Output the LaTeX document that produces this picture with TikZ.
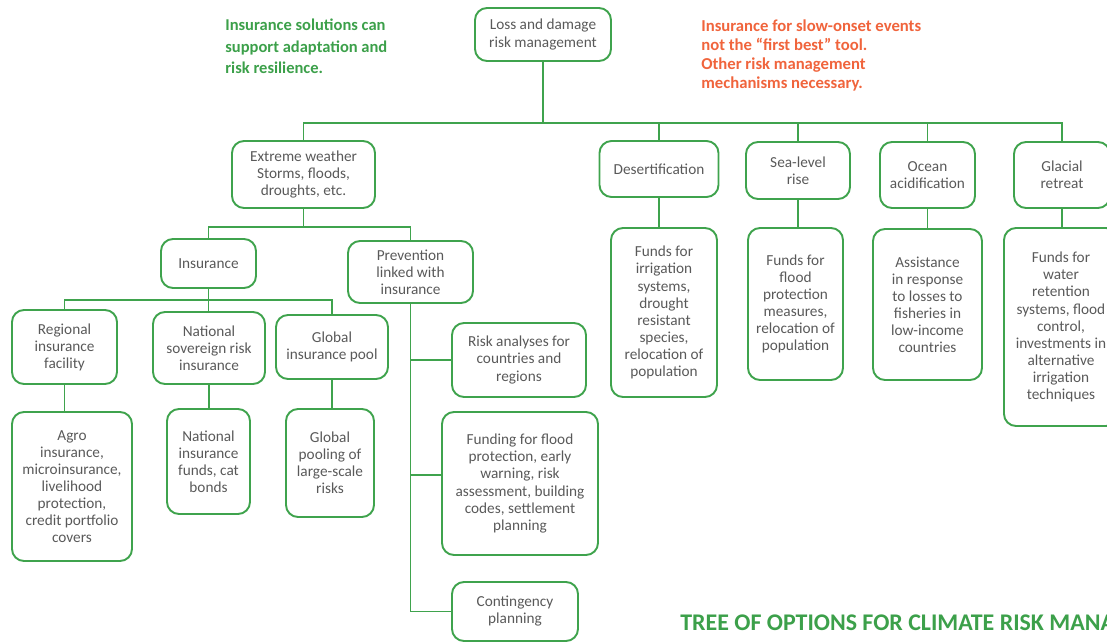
\documentclass[tikz,border=0pt]{standalone}
\usepackage{fontspec}
\setmainfont{Carlito}
\usetikzlibrary{calc}

\definecolor{verde}{RGB}{63,163,77}
\definecolor{verdetit}{RGB}{60,160,74}
\definecolor{gris}{RGB}{89,89,89}
\definecolor{naranja}{RGB}{240,100,60}

\begin{document}
\begin{tikzpicture}[x=0.02cm, y=-0.02cm,
  caja/.style={draw=verde, line width=1.1pt, rounded corners=0.24cm, align=center,
    text=gris, inner sep=0pt, font=\fontsize{8.7}{9.7}\selectfont},
  tam/.style 2 args={minimum width=#1*0.02cm, minimum height=#2*0.02cm},
  rama/.style={draw=verde, line width=0.85pt},
  nota/.style={align=left, inner sep=0pt, anchor=north west,
    font=\bfseries\fontsize{9.4}{12.2}\selectfont}]
  \useasboundingbox (0,0) rectangle (1107,642);
  \clip (0,0) rectangle (1107,642);

  % textos sueltos
  \node[nota, text=verdetit] (nota1) at (225,19)
    {Insurance solutions can\\support adaptation and\\risk resilience.};
  \node[nota, text=naranja, font=\bfseries\fontsize{9.5}{10.8}\selectfont] (nota2) at (701,19.5)
    {Insurance for slow-onset events\\not the ``first best'' tool.\\Other risk management\\mechanisms necessary.};
  \node[anchor=base west, inner sep=0pt, text=verdetit,
    font=\bfseries\fontsize{13.6}{15}\selectfont] (titulo) at (680,630)
    {TREE OF OPTIONS FOR CLIMATE RISK MANA};

  % raiz y primer nivel
  \node[caja, tam={136}{53}] (loss) at (543,34.5) {Loss and damage\\risk management};
  \node[caja, tam={143}{67}] (ext) at (303.5,174.5) {Extreme weather\\Storms, floods,\\droughts, etc.};
  \node[caja, tam={119}{56}] (des) at (659,169) {Desertification};
  \node[caja, tam={104}{57}] (sea) at (798,170.5) {Sea-level\\rise};
  \node[caja, tam={95}{66}] (oce) at (927.5,175) {Ocean\\acidification};
  \node[caja, tam={96}{66}] (glac) at (1062,175) {Glacial\\retreat};

  % eventos lentos
  \node[caja, tam={106}{169}] (desC) at (664,312.5)
    {Funds for\\irrigation\\systems,\\drought\\resistant\\species,\\relocation of\\population};
  \node[caja, tam={95}{152}] (seaC) at (795.5,304)
    {Funds for\\flood\\protection\\measures,\\relocation of\\population};
  \node[caja, tam={109}{151}] (oceC) at (927.5,304.5)
    {Assistance\\in response\\to losses to\\fisheries in\\low-income\\countries};
  \node[caja, tam={114}{198}] (glacC) at (1061,327)
    {Funds for\\water\\retention\\systems, flood\\control,\\investments in\\alternative\\irrigation\\techniques};

  % seguro y prevencion
  \node[caja, tam={95}{49}] (ins) at (208.5,263.5) {Insurance};
  \node[caja, tam={125}{62}] (prev) at (410.5,272) {Prevention\\linked with\\insurance};
  \node[caja, tam={105}{74}] (reg) at (64.5,347) {Regional\\insurance\\facility};
  \node[caja, tam={112}{72}] (nat) at (209,348) {National\\sovereign risk\\insurance};
  \node[caja, tam={112}{64}] (glob) at (332,347) {Global\\insurance pool};
  \node[caja, tam={120}{149}] (regC) at (72,486.5)
    {Agro\\insurance,\\microinsurance,\\livelihood\\protection,\\credit portfolio\\covers};
  \node[caja, tam={83}{105}] (natC) at (208.5,461.5) {National\\insurance\\funds, cat\\bonds};
  \node[caja, tam={88}{108}] (globC) at (330,463) {Global\\pooling of\\large-scale\\risks};
  \node[caja, tam={134}{74}] (risk) at (519,360) {Risk analyses for\\countries and\\regions};
  \node[caja, tam={156}{143}] (fund) at (520,483.5)
    {Funding for flood\\protection, early\\warning, risk\\assessment, building\\codes, settlement\\planning};
  \node[caja, tam={126}{59}] (cont) at (515,611.5) {Contingency\\planning};

  % barras del arbol
  \coordinate (bus1) at (0,123);
  \coordinate (bus2) at (0,227);
  \coordinate (bus3) at (0,300);
  \coordinate (fundIn) at ($(fund.west)+(0,-8.5)$);

  \draw[rama] (loss.south) -- (loss.south |- bus1);
  \draw[rama] (ext.north) |- (glac.north |- bus1) -- (glac.north);
  \foreach \n in {des,sea,oce}
    \draw[rama] (\n.north) -- (\n.north |- bus1);
  \foreach \a/\b in {des/desC,sea/seaC,oce/oceC,glac/glacC,reg/regC,nat/natC,glob/globC}
    \draw[rama] (\a.south) -- (\a.south |- \b.north);
  \draw[rama] (ext.south) -- (ext.south |- bus2);
  \draw[rama] (ins.north) |- (prev.north |- bus2) -- (prev.north);
  \draw[rama] (ins.south) -- (ins.south |- nat.north);
  \draw[rama] (reg.north) |- (glob.north |- bus3) -- (glob.north);
  \draw[rama] (prev.south) -- (prev.south |- cont.west) -- (cont.west);
  \draw[rama] (prev.south |- risk.west) -- (risk.west);
  \draw[rama] (prev.south |- fundIn) -- (fundIn);
\end{tikzpicture}
\end{document}
